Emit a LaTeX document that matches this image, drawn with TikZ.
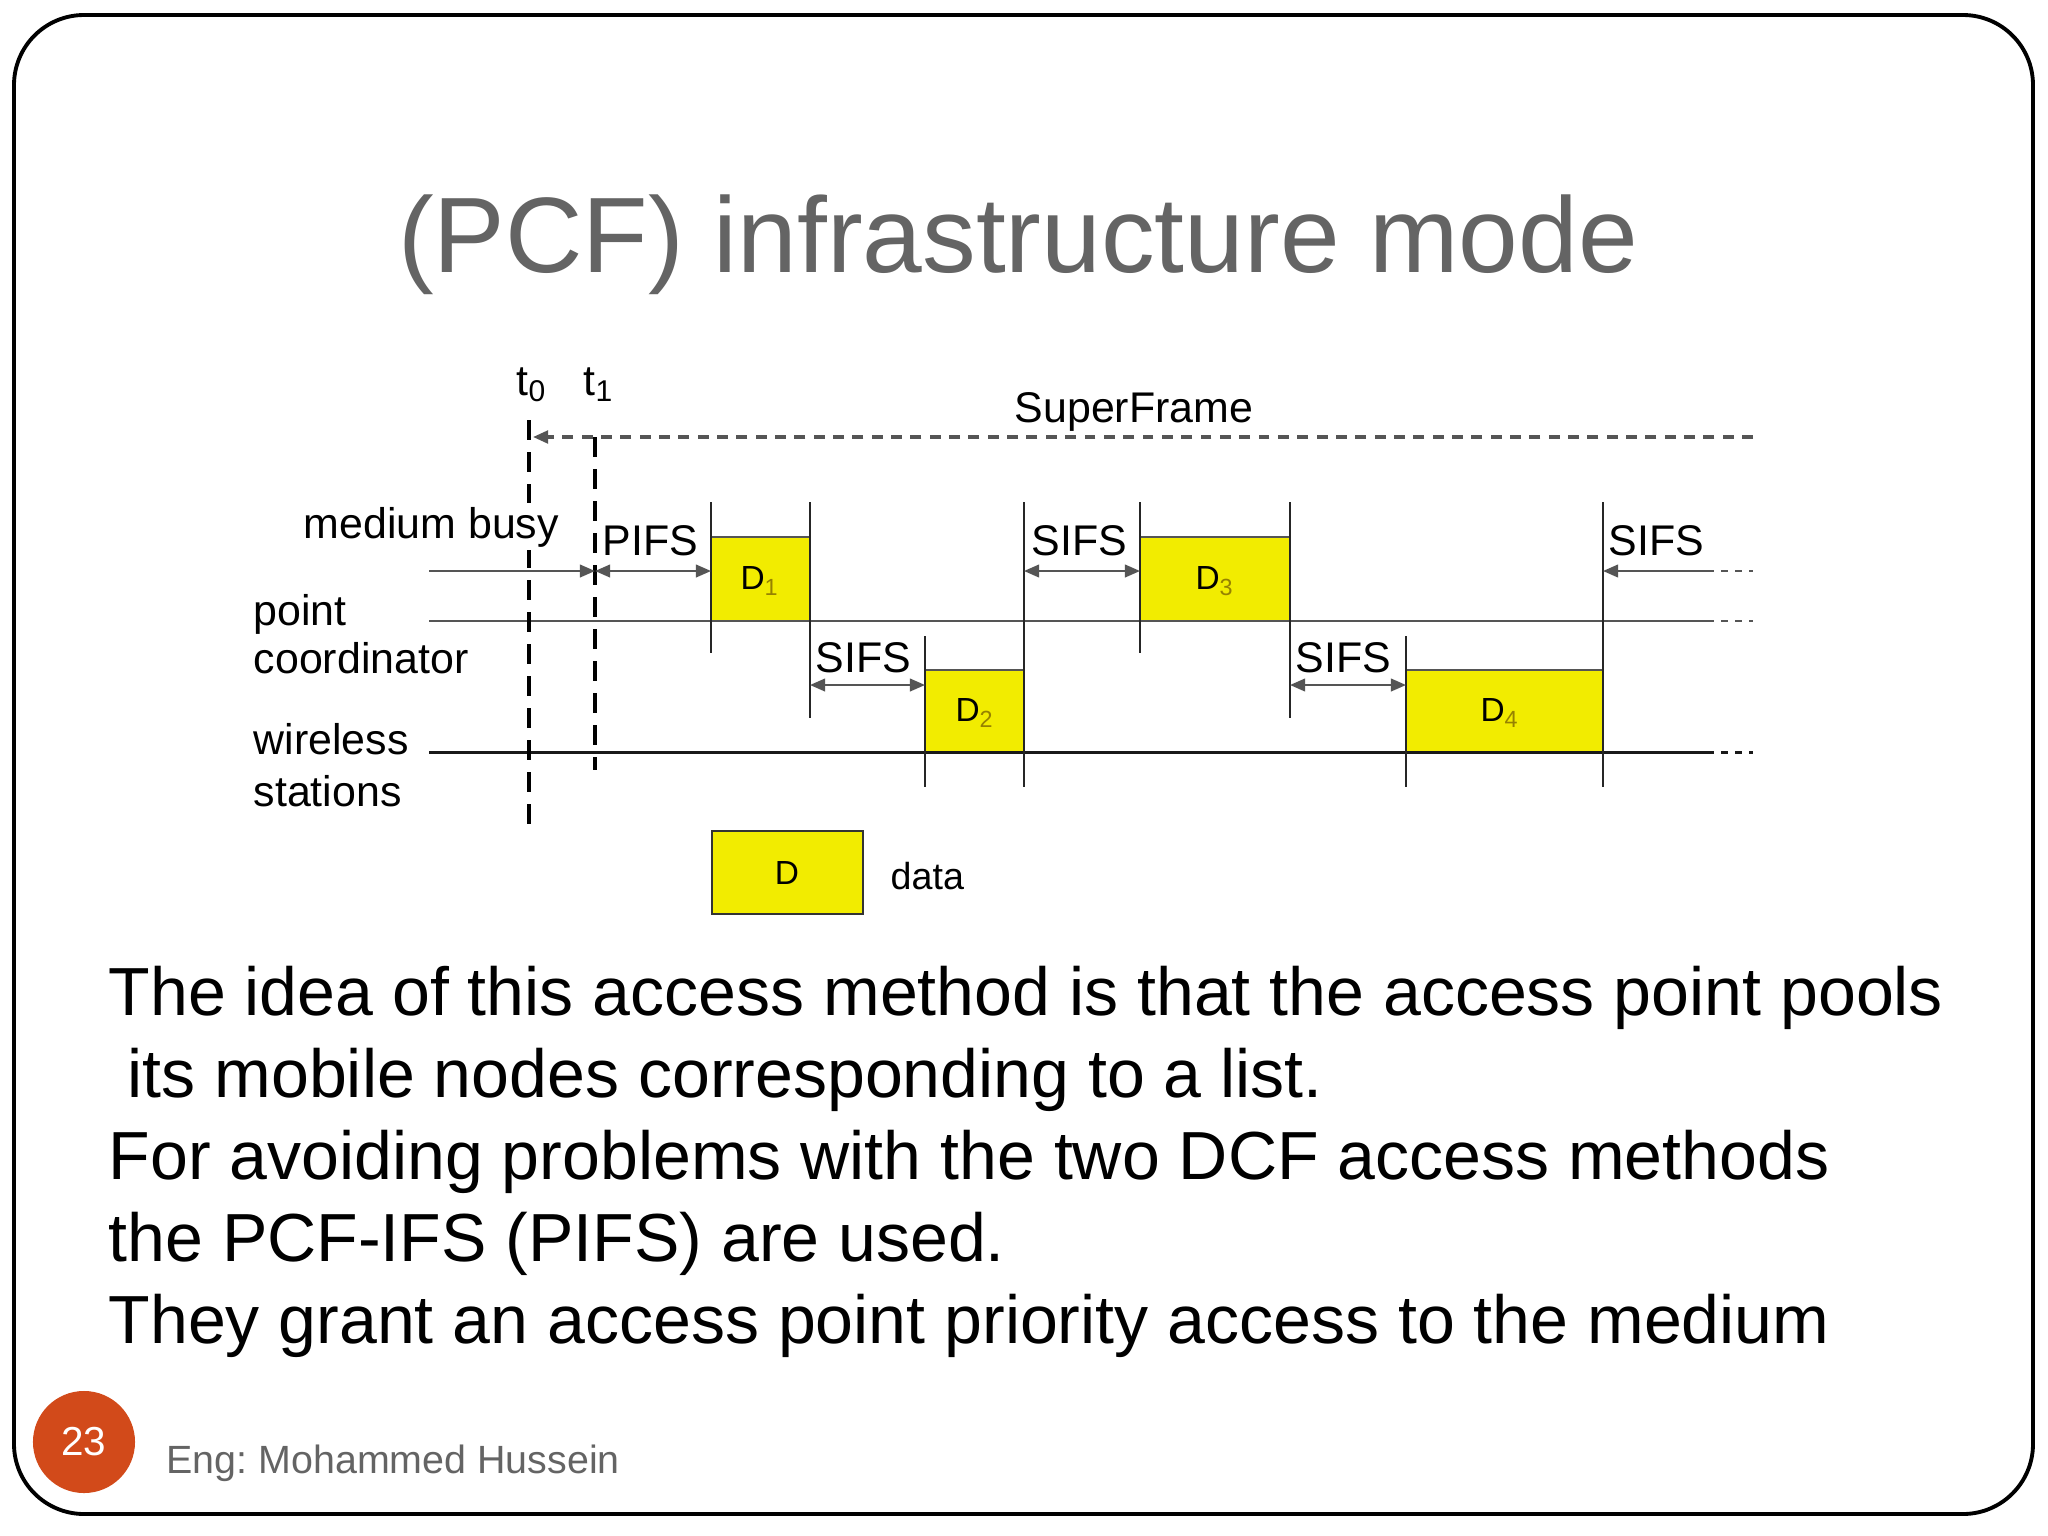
\documentclass[tikz,border=0pt]{standalone}
\usepackage{fontspec}
\setmainfont{Liberation Sans}
\usetikzlibrary{arrows.meta}
\definecolor{ylw}{RGB}{242,236,0}
\definecolor{subc}{RGB}{150,130,0}
\definecolor{ttl}{RGB}{100,100,100}
\definecolor{org}{RGB}{210,74,26}
\definecolor{lng}{RGB}{85,85,85}
\begin{document}
\frenchspacing
\begin{tikzpicture}[x=0.01cm,y=-0.01cm,
  txt/.style={inner sep=0pt, anchor=base west, font=\fontsize{12.2pt}{14pt}\selectfont},
  body/.style={inner sep=0pt, anchor=base west, font=\fontsize{19.35pt}{23pt}\selectfont},
  vdash/.style={line width=1pt, dash pattern=on 5.7pt off 3.4pt},
  tick/.style={line width=0.6pt, draw=black!85},
  tl/.style={line width=0.6pt, draw=lng},
  tip/.style={-{Triangle[length=4.3pt,width=3.6pt]}},
  both/.style={{Triangle[length=4.3pt,width=3.6pt]}-{Triangle[length=4.3pt,width=3.6pt]}},
  shortdash/.style={dash pattern=on 2pt off 2pt},
  dlab/.style={inner sep=0pt, font=\fontsize{9.5pt}{11pt}\selectfont}
]
\useasboundingbox (0,0) rectangle (2048,1536);
\fill[white] (0,0) rectangle (2048,1536);
\draw[line width=1.1pt, rounded corners=0.7cm] (14,15) rectangle (2033,1514);

% title
\node[inner sep=0pt, anchor=base, text=ttl, font=\fontsize{30.5pt}{34pt}\selectfont] (title) at (1018,272) {(PCF) infrastructure mode};

% coordinates
\coordinate (t0top) at (529,420); \coordinate (t0bot) at (529,825);
\coordinate (t1top) at (595,437); \coordinate (t1bot) at (595,770);
\coordinate (sfR) at (1753,437); \coordinate (sfL) at (533,437);
\coordinate (mbL) at (429,571); \coordinate (mbR) at (595,571);
\coordinate (pcL) at (429,621); \coordinate (pcR) at (1707,621); \coordinate (pcE) at (1753,621);
\coordinate (wsL) at (429,752); \coordinate (wsR) at (1707,752); \coordinate (wsE) at (1753,752);

% data boxes
\fill[ylw] (711,537) rectangle (810,621);
\fill[ylw] (925,670) rectangle (1024,752);
\fill[ylw] (1140,537) rectangle (1290,621);
\fill[ylw] (1406,670) rectangle (1603,752);
\draw[tl] (711,537) -- (810,537);
\draw[tl] (925,670) -- (1024,670);
\draw[tl] (1140,537) -- (1290,537);
\draw[tl] (1406,670) -- (1603,670);

\node[dlab] (d1) at (760,581) {D\textsubscript{\textcolor{subc}{1}}};
\node[dlab] (d2) at (975,713) {D\textsubscript{\textcolor{subc}{2}}};
\node[dlab] (d3) at (1215,581) {D\textsubscript{\textcolor{subc}{3}}};
\node[dlab] (d4) at (1500,713) {D\textsubscript{\textcolor{subc}{4}}};

% horizontal lines
\draw[tl] (pcL) -- (pcR);
\draw[tl, shortdash] (pcR) -- (pcE);
\draw[line width=0.85pt, draw=black!90] (wsL) -- (wsR);
\draw[line width=0.85pt, draw=black!90, shortdash] (wsR) -- (wsE);

% vertical ticks
\draw[tick] (711,502) -- (711,653);
\draw[tick] (810,502) -- (810,718);
\draw[tick] (925,636) -- (925,787);
\draw[tick] (1024,502) -- (1024,787);
\draw[tick] (1140,502) -- (1140,653);
\draw[tick] (1290,502) -- (1290,718);
\draw[tick] (1406,636) -- (1406,787);
\draw[tick] (1603,502) -- (1603,787);

% dashed time markers
\draw[vdash] (t0top) -- (t0bot);
\draw[vdash] (t1top) -- (t1bot);
\draw[lng, line width=0.9pt, dash pattern=on 3.1pt off 2.4pt, tip] (sfR) -- (sfL);

% arrows
\draw[tl, tip] (mbL) -- (mbR);
\draw[tl, both] (595,571) -- (711,571);
\draw[tl, both] (810,685) -- (925,685);
\draw[tl, both] (1024,571) -- (1140,571);
\draw[tl, both] (1290,685) -- (1406,685);
\draw[tl, tip] (1707,571) -- (1603,571);
\draw[tl, shortdash] (1707,571) -- (1753,571);

% labels
\node[txt] (t0) at (516,395) {t\textsubscript{0}};
\node[txt] (t1) at (583,395) {t\textsubscript{1}};
\node[txt] (sf) at (1014,422) {SuperFrame};
\node[txt, fill=white, inner ysep=1pt] (mb) at (303,538) {medium busy};
\node[txt] (pifs) at (602,555) {PIFS};
\node[txt] (s1) at (815,672) {SIFS};
\node[txt] (s2) at (1031,555) {SIFS};
\node[txt] (s3) at (1295,672) {SIFS};
\node[txt] (s4) at (1608,555) {SIFS};
\node[txt] (pc1) at (253,625) {point};
\node[txt] (pc2) at (253,673) {coordinator};
\node[txt] (ws1) at (253,754) {wireless};
\node[txt] (ws2) at (253,806) {stations};

% legend
\draw[fill=ylw, line width=0.6pt, draw=black!80] (712,831) rectangle (863,914);
\node[inner sep=0pt, font=\fontsize{9.5pt}{11pt}\selectfont] (legD) at (787,873) {D};
\node[inner sep=0pt, anchor=base west, font=\fontsize{10.7pt}{12pt}\selectfont] (legT) at (890,889) {data};

% body text
\node[body] (b1) at (108,1015) {The idea of this access method is that the access point pools};
\node[body] (b2) at (127,1097) {its mobile nodes corresponding to a list.};
\node[body] (b3) at (108,1179) {For avoiding problems with the two DCF access methods};
\node[body] (b4) at (108,1261) {the PCF-IFS (PIFS) are used.};
\node[body] (b5) at (108,1343) {They grant an access point priority access to the medium};

% footer
\node[circle, fill=org, minimum size=1.02cm, inner sep=0pt, text=white, font=\fontsize{11.5pt}{13pt}\selectfont] (pg) at (84,1442) {23};
\node[inner sep=0pt, anchor=base west, text=ttl, font=\fontsize{11.2pt}{13pt}\selectfont] (auth) at (166,1473) {Eng: Mohammed Hussein};
\end{tikzpicture}
\end{document}
